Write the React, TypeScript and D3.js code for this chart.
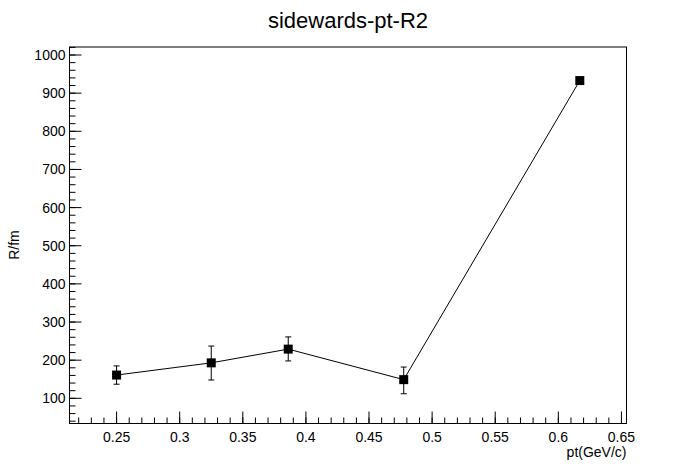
import React from 'react';
import * as d3 from 'd3';

const ptValues = [0.25, 0.325, 0.386, 0.4775, 0.617];
const rValues = [161, 193, 229, 149, 933];
const errLow = [137, 148, 198, 112, 933];
const errHigh = [185, 237, 261, 182, 933];
const xTicks = [0.25, 0.3, 0.35, 0.4, 0.45, 0.5, 0.55, 0.6, 0.65];
const yTicks = [100, 200, 300, 400, 500, 600, 700, 800, 900, 1000];

const W = 696, H = 472;
const L = 69.5, R = 626.5, T = 47, B = 423.5;

export default function App() {
  const x = d3.scaleLinear().domain([0.2127, 0.654]).range([L, R]);
  const y = d3.scaleLinear().domain([34, 1021]).range([B, T]);
  const line = d3.line<number>().x((_, i) => x(ptValues[i])).y((d) => y(d));

  const xMinor = d3.range(0.22, 0.6541, 0.01).filter((v) => x(v) >= L && x(v) <= R);
  const yMinor = d3.range(40, 1021, 20).filter((v) => y(v) >= T && y(v) <= B);
  const font = "'Liberation Sans', Arial, sans-serif";

  return (
    <svg width={W} height={H} style={{ position: 'absolute', left: 0, top: 0, background: '#fff' }} fontFamily={font}>
      <rect x={0} y={0} width={W} height={H} fill="#fff" />
      <text x={W / 2} y={28} textAnchor="middle" fontSize={22}>sidewards-pt-R2</text>
      <rect x={L} y={T} width={R - L} height={B - T} fill="none" stroke="#000" strokeWidth={1} />
      {xMinor.map((v, i) => (
        <line key={'xm' + i} x1={x(v)} x2={x(v)} y1={B} y2={B - 6} stroke="#000" />
      ))}
      {xTicks.map((v) => (
        <g key={'xt' + v}>
          <line x1={x(v)} x2={x(v)} y1={B} y2={B - 12} stroke="#000" />
          <text x={x(v)} y={B + 18} textAnchor="middle" fontSize={14}>{String(v)}</text>
        </g>
      ))}
      {yMinor.map((v, i) => (
        <line key={'ym' + i} x1={L} x2={L + 6} y1={y(v)} y2={y(v)} stroke="#000" />
      ))}
      {yTicks.map((v) => (
        <g key={'yt' + v}>
          <line x1={L} x2={L + 12} y1={y(v)} y2={y(v)} stroke="#000" />
          <text x={L - 4} y={y(v) + 5} textAnchor="end" fontSize={14}>{v}</text>
        </g>
      ))}
      <text x={R} y={457} textAnchor="end" fontSize={14}>pt(GeV/c)</text>
      <text transform={`translate(19,${T + 8}) rotate(-90)`} x={-(245 - T - 8) + 0} y={0} textAnchor="middle" fontSize={14}>R/fm</text>
      <path d={line(rValues) || ''} fill="none" stroke="#000" strokeWidth={1} />
      {ptValues.map((p, i) => (
        <g key={'pt' + i}>
          {errHigh[i] !== errLow[i] && (
            <>
              <line x1={x(p)} x2={x(p)} y1={y(errLow[i])} y2={y(errHigh[i])} stroke="#000" />
              <line x1={x(p) - 3} x2={x(p) + 3} y1={y(errLow[i])} y2={y(errLow[i])} stroke="#000" />
              <line x1={x(p) - 3} x2={x(p) + 3} y1={y(errHigh[i])} y2={y(errHigh[i])} stroke="#000" />
            </>
          )}
          <rect x={x(p) - 4.5} y={y(rValues[i]) - 4.5} width={9} height={9} fill="#000" />
        </g>
      ))}
    </svg>
  );
}
